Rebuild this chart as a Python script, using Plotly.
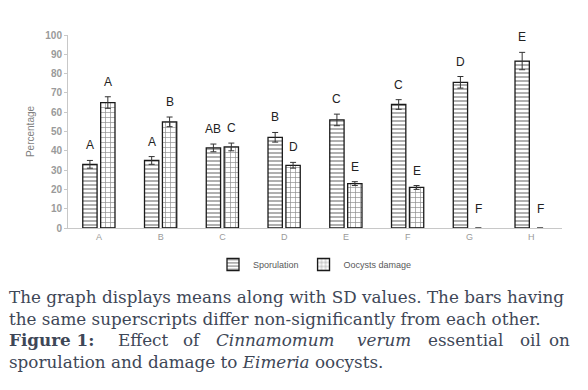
import plotly.graph_objects as go

categories = ["A", "B", "C", "D", "E", "F", "G", "H"]
sporulation = [33, 35, 41.5, 47, 56, 64, 75.5, 86.5]
sporulation_sd = [2, 2, 2, 2.5, 3, 2.5, 3, 4.5]
oocysts = [65, 55, 42, 32.5, 23, 21, 0, 0]
oocysts_sd = [3, 2.5, 2, 1.5, 1, 1, 0, 0]
spor_letters = ["A", "A", "AB", "B", "C", "C", "D", "E"]
ooc_letters = ["A", "B", "C", "D", "E", "E", "F", "F"]
y_ticks = list(range(0, 101, 10))

W, H = 588, 390
L, R, T, B = 68, 26, 35, 162
PW = W - L - R
PH = H - T - B

def px_to_paper_x(px):
    return (px - L) / PW

def px_to_paper_y(py):
    return (H - B - py) / PH

fig = go.Figure()
fig.add_trace(go.Bar(
    name="Sporulation", x=categories, y=sporulation,
    marker=dict(color="white", line=dict(color="#1a1a1a", width=1.3),
                pattern=dict(shape="-", size=4, solidity=0.35, fgcolor="#1a1a1a", bgcolor="white")),
    error_y=dict(type="data", array=sporulation_sd, color="#333", thickness=1, width=3),
))
fig.add_trace(go.Bar(
    name="Oocysts damage", x=categories, y=oocysts,
    marker=dict(color="white", line=dict(color="#1a1a1a", width=[1.3 if v > 0 else 0 for v in oocysts]),
                pattern=dict(shape="+", size=5, solidity=0.25, fgcolor="#1a1a1a", bgcolor="white")),
    error_y=dict(type="data", array=[e if v > 0 else None for v, e in zip(oocysts, oocysts_sd)],
                 color="#333", thickness=1, width=3),
))

annotations = []
for c, v, e, t in zip(categories, sporulation, sporulation_sd, spor_letters):
    annotations.append(dict(x=c, y=v + e, xref="x", yref="y", text=t, showarrow=False,
                            xshift=-9, yshift=6, yanchor="bottom",
                            font=dict(family="Liberation Sans", size=12, color="#222")))
for c, v, e, t in zip(categories, oocysts, oocysts_sd, ooc_letters):
    annotations.append(dict(x=c, y=v + e, xref="x", yref="y", text=t, showarrow=False,
                            xshift=9, yshift=6 if v > 0 else 10, yanchor="bottom",
                            font=dict(family="Liberation Sans", size=12, color="#222")))

cap_font = dict(family="DejaVu Serif", size=16.8, color="#3e4757")
caption_lines = [
    (305, [(7, "The graph displays means along with SD values. The bars having")]),
    (326.5, [(7, "the same superscripts differ non-significantly from each other.")]),
    (348, [(7, "<b>Figure 1:</b>"), (116, "Effect"), (181, "of"), (214, "<i>Cinnamomum</i>"),
           (355, "<i>verum</i>"), (426, "essential"), (518, "oil"), (547, "on")]),
    (369.5, [(7, "sporulation and damage to <i>Eimeria</i> oocysts.")]),
]
for base, words in caption_lines:
    for xpx, txt in words:
        annotations.append(dict(x=px_to_paper_x(xpx), y=px_to_paper_y(base + 4), xref="paper", yref="paper",
                                text=txt, showarrow=False, xanchor="left", yanchor="bottom",
                                font=cap_font))

fig.update_layout(
    width=W, height=H,
    margin=dict(l=L, r=R, t=T, b=B, autoexpand=False),
    paper_bgcolor="white", plot_bgcolor="white",
    barmode="group", bargap=0.42, bargroupgap=0.2,
    showlegend=True,
    legend=dict(orientation="h", x=0.5, xanchor="center", y=px_to_paper_y(250), yanchor="top",
                font=dict(family="Liberation Sans", size=9, color="#595959"),
                itemwidth=30, traceorder="normal"),
    xaxis=dict(showline=True, linecolor="#c8c8c8", linewidth=1, ticks="", automargin=False,
               tickfont=dict(family="Liberation Sans", size=9, color="#9a9a9a"),
               showgrid=False, zeroline=False),
    yaxis=dict(range=[0, 100], tickvals=y_ticks, showline=True, linecolor="#c8c8c8", linewidth=1,
               ticks="outside", ticklen=3, tickcolor="#c8c8c8", automargin=False,
               tickfont=dict(family="Liberation Sans", size=10, color="#9a9a9a", weight="bold"),
               showgrid=False, zeroline=False,
               title=dict(text="Percentage", font=dict(family="Liberation Sans", size=10, color="#7f7f7f"),
                          standoff=8)),
    annotations=annotations,
)

fig.write_html("out.html", config={"displayModeBar": False},
               post_script="document.body.style.margin='0';")
